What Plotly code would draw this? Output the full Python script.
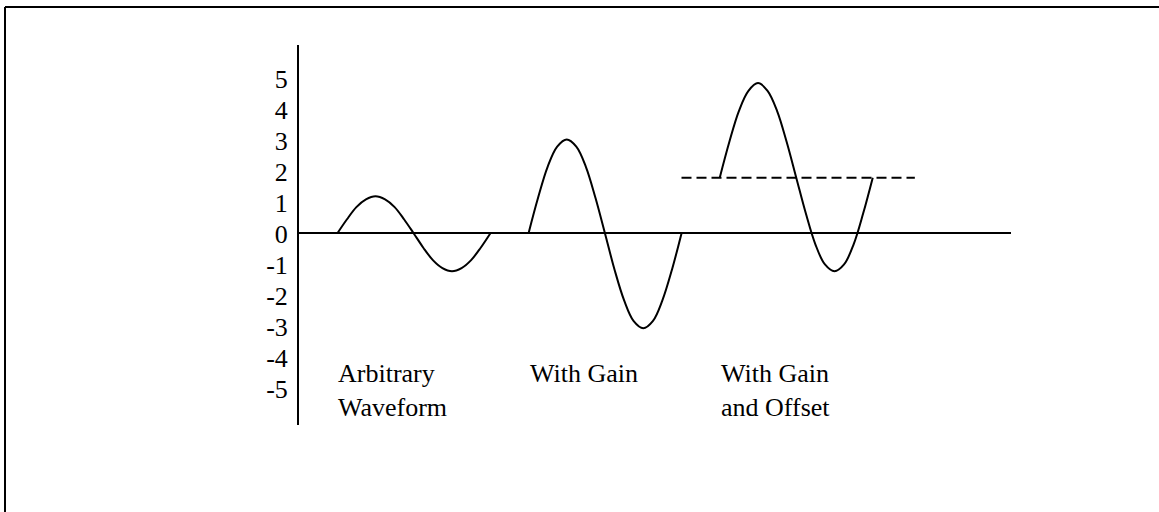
import plotly.graph_objects as go

# ---- data ----
arb_x = [1, 1.25, 1.5, 1.75, 2, 2.25, 2.5, 2.75, 3, 3.25, 3.5, 3.75, 4, 4.25, 4.5, 4.75, 5]
arb_y = [0, 0.45, 0.85, 1.1, 1.2, 1.1, 0.85, 0.45, 0, -0.46, -0.86, -1.12, -1.22, -1.12, -0.86, -0.46, 0]

gain_x = [6, 6.25, 6.5, 6.75, 7, 7.25, 7.5, 7.75, 8, 8.25, 8.5, 8.75, 9, 9.25, 9.5, 9.75, 10]
gain_y = [0, 1.15, 2.15, 2.8, 3.03, 2.8, 2.15, 1.15, 0, -1.17, -2.16, -2.83, -3.06, -2.83, -2.16, -1.17, 0]

off_x = [11, 11.25, 11.5, 11.75, 12, 12.25, 12.5, 12.75, 13, 13.25, 13.5, 13.75, 14, 14.25, 14.5, 14.75, 15]
off_y = [1.8, 2.95, 3.95, 4.6, 4.85, 4.6, 3.95, 2.95, 1.8, 0.65, -0.35, -1.0, -1.22, -1.0, -0.35, 0.65, 1.8]

offset_x = [10, 16.1]
offset_y = [1.8, 1.8]

tick_vals = [5, 4, 3, 2, 1, 0, -1, -2, -3, -4, -5]
tick_text = ["5", "4", "3", "2", "1", "0", "-1", "-2", "-3", "-4", "-5"]

labels = ["Arbitrary<br>Waveform", "With Gain", "With Gain<br>and Offset"]
label_x = [0.97, 5.98, 10.98]

# ---- figure ----
W, H = 1159, 512
L, R, T, B = 299, 148, 45, 87
FONT = "Liberation Serif, Times New Roman, serif"
FS = 26

fig = go.Figure()
for xs, ys in [(arb_x, arb_y), (gain_x, gain_y), (off_x, off_y)]:
    fig.add_trace(go.Scatter(x=xs, y=ys, mode="lines",
                             line=dict(color="black", width=2, shape="spline", smoothing=1),
                             hoverinfo="skip", showlegend=False))
fig.add_trace(go.Scatter(x=offset_x, y=offset_y, mode="lines",
                         line=dict(color="black", width=2, dash="10px,5px"),
                         hoverinfo="skip", showlegend=False))

for txt, lx in zip(labels, label_x):
    fig.add_annotation(x=lx, y=-3.98, xref="x", yref="y", text=txt, showarrow=False,
                       xanchor="left", yanchor="top", align="left",
                       font=dict(family=FONT, size=FS, color="black"))

# page border (top and left edges)
pw, ph = W - L - R, H - T - B
def px(x):
    return (x - L) / pw
def py(y):
    return (H - B - y) / ph
fig.add_shape(type="line", xref="paper", yref="paper", x0=px(5), x1=px(1159), y0=py(7), y1=py(7),
              line=dict(color="black", width=2))
fig.add_shape(type="line", xref="paper", yref="paper", x0=px(5), x1=px(5), y0=py(7), y1=py(512),
              line=dict(color="black", width=2))

fig.update_layout(
    width=W, height=H,
    margin=dict(l=L, r=R, t=T, b=B),
    paper_bgcolor="white", plot_bgcolor="white",
    showlegend=False,
    font=dict(family=FONT, size=FS, color="black"),
    xaxis=dict(range=[0, 712 / 38.25], showgrid=False, zeroline=False, showline=False,
               showticklabels=False, ticks=""),
    yaxis=dict(range=[-6.18, 6.08], showgrid=False, zeroline=True, zerolinecolor="black",
               zerolinewidth=2, showline=True, linecolor="black", linewidth=2,
               tickvals=tick_vals, ticktext=tick_text, ticks="",
               tickfont=dict(family=FONT, size=FS, color="black"), ticklabelstandoff=4),
)

fig.write_html("out.html", config={"displayModeBar": False},
               post_script="document.body.style.margin='0';document.body.style.overflow='hidden';")
